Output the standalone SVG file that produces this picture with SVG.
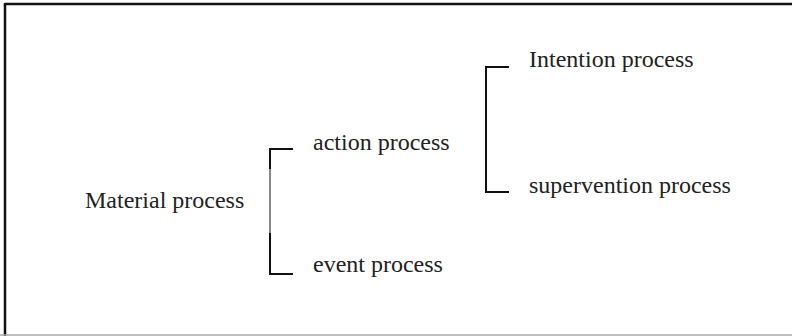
<svg xmlns="http://www.w3.org/2000/svg" width="792" height="336" viewBox="0 0 792 336">
<style>
text{font-family:"Liberation Serif","Times New Roman",serif;font-size:24px;fill:#222}
.br{fill:none;stroke:#111;stroke-width:2}
.thin{fill:none;stroke:#111;stroke-width:1}
</style>
<rect width="792" height="336" fill="#fff"/>
<line x1="5" y1="4" x2="792" y2="4" stroke="#111" stroke-width="2.5"/>
<line x1="5" y1="3" x2="5" y2="336" stroke="#111" stroke-width="2.5"/>
<line x1="0" y1="335" x2="792" y2="335" stroke="#aaa" stroke-width="1.5"/>
<g id="connectors">
<path class="br" d="M293,149 H270 V169"/>
<path class="thin" d="M270,169 V233"/>
<path class="br" d="M270,233 V274 H293"/>
<path class="br" d="M509,67 H486 V192 H509"/>
</g>
<g id="material"><text x="85" y="208">Material process</text></g>
<g id="action"><text x="313" y="150">action process</text></g>
<g id="event"><text x="313" y="272">event process</text></g>
<g id="intention"><text x="529" y="67">Intention process</text></g>
<g id="supervention"><text x="529" y="193">supervention process</text></g>
</svg>
